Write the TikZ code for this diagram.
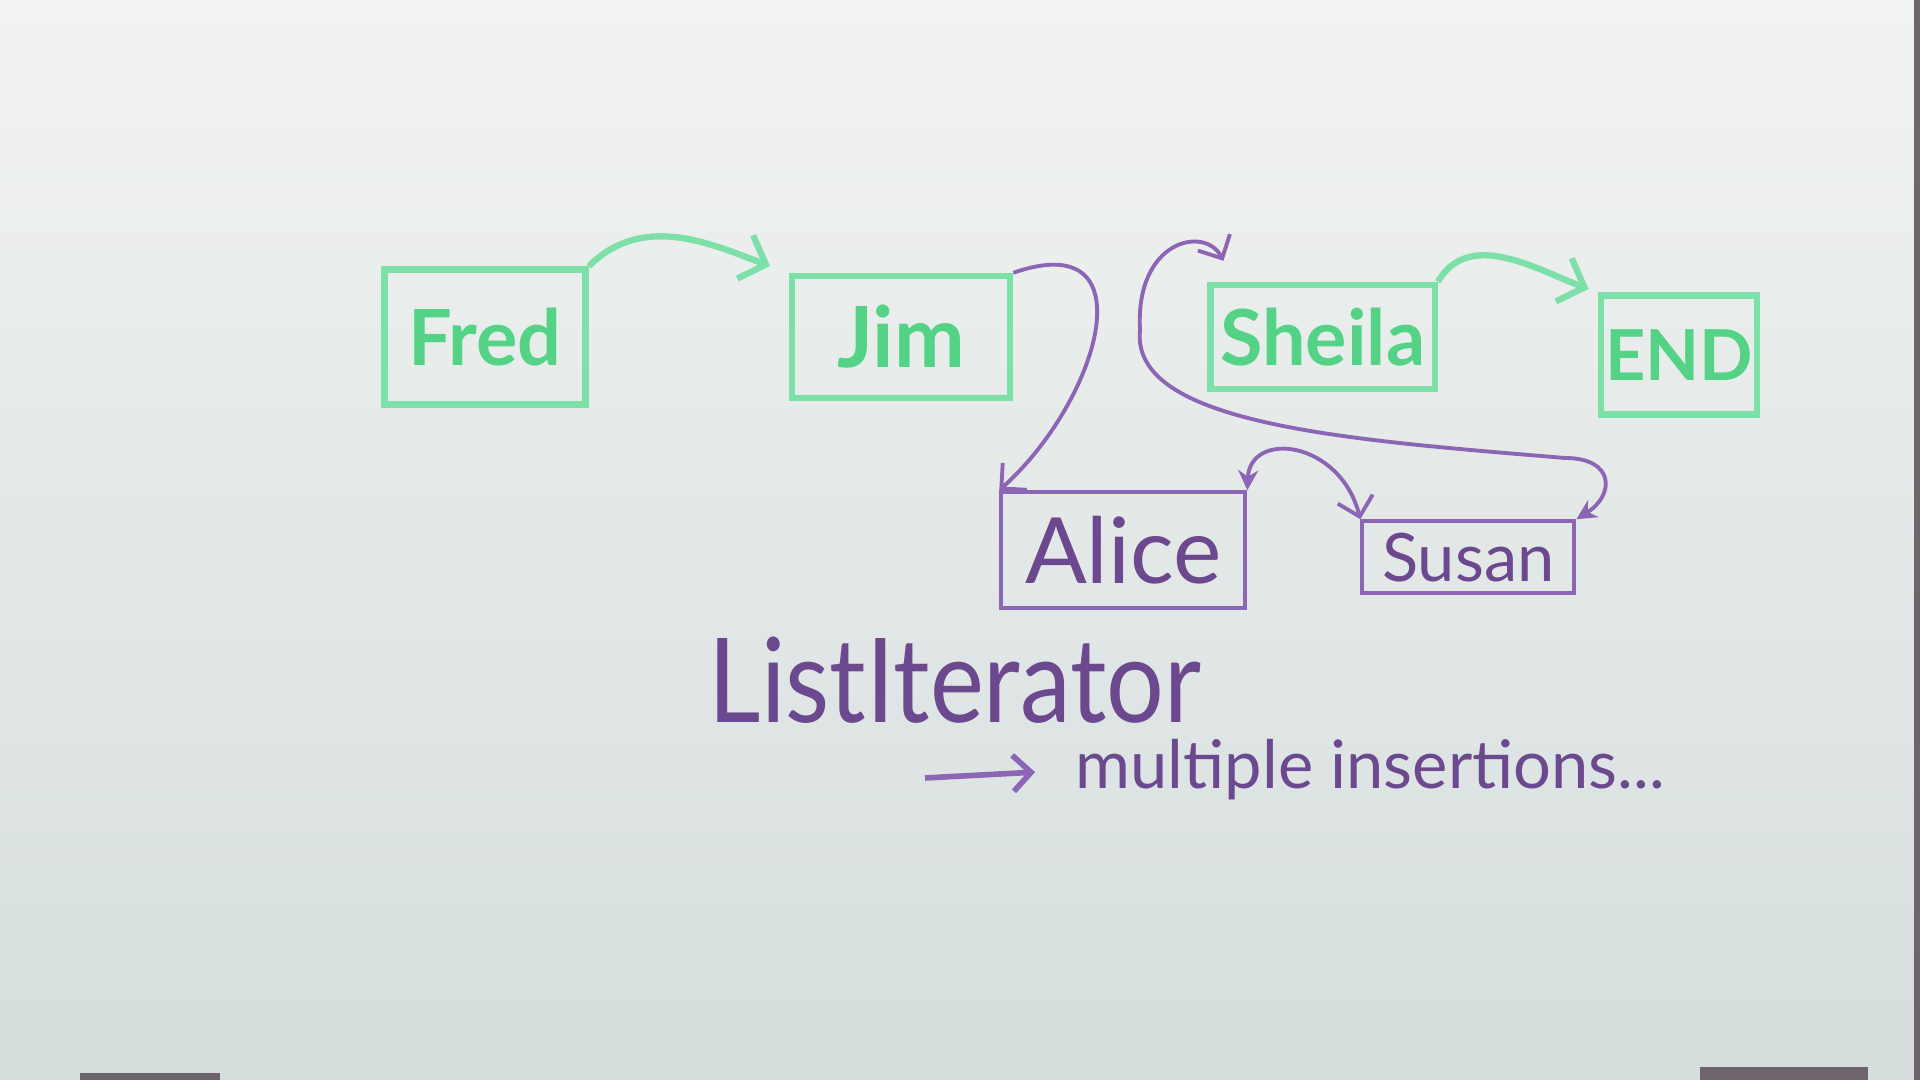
\documentclass[tikz,border=0pt]{standalone}
\usepackage{fontspec}
\setmainfont{Lato}
\usetikzlibrary{arrows.meta,positioning}
\definecolor{boardtop}{RGB}{241,243,242}
\definecolor{boardbottom}{RGB}{213,222,221}
\definecolor{frame}{RGB}{110,100,108}
\definecolor{markgreen}{RGB}{124,224,168}
\definecolor{inkgreen}{RGB}{84,210,134}
\definecolor{markpurple}{RGB}{140,102,180}
\definecolor{inkpurple}{RGB}{108,72,142}
\tikzset{
    listbox/.style={
        rectangle,
        draw=markgreen,
        line width=1.8pt,
        text=inkgreen,
        inner sep=0pt,
    },
    newbox/.style={
        rectangle,
        draw=markpurple,
        line width=1.1pt,
        text=inkpurple,
        inner sep=0pt,
    },
    link/.style={
        draw=markgreen,
        line width=1.8pt,
        -{Straight Barb[length=2.2mm,width=4.6mm]},
    },
    newlink/.style={
        draw=markpurple,
        line width=1.1pt,
        -{Straight Barb[length=1.8mm,width=3.6mm]},
    },
    note/.style={
        text=inkpurple,
        inner sep=0pt,
    },
    node distance=2cm,
}
\begin{document}
\begin{tikzpicture}[x=0.01cm,y=-0.01cm]

                    % Whiteboard
                    \shade[top color=boardtop, bottom color=boardbottom] (0,0) rectangle (1920,1080);
                    \fill[frame] (1914,0) rectangle (1920,1080);
                    \fill[frame] (80,1073) rectangle (220,1080);
                    \fill[frame] (1700,1067) rectangle (1868,1080);
                    \useasboundingbox (0,0) rectangle (1920,1080);

                    % Nodes and position definitions
                    \node [listbox, minimum width=2.01cm, minimum height=1.35cm,
                           font=\fontsize{22}{24}\bfseries\selectfont] (Fred) at (485,337) {Fred};
                    \node [listbox, minimum width=2.18cm, minimum height=1.22cm,
                           font=\fontsize{24}{26}\bfseries\selectfont] (Jim) [right=2.0cm of Fred] {Jim};
                    \node [listbox, minimum width=2.24cm, minimum height=1.04cm,
                           font=\fontsize{22}{24}\bfseries\selectfont] (Sheila) [right=1.94cm of Jim] {Sheila};
                    \node [listbox, minimum width=1.56cm, minimum height=1.19cm,
                           font=\fontsize{20}{22}\bfseries\selectfont] (End) [right=1.6cm of Sheila, yshift=-1.8mm] {END};

                    \node [newbox, minimum width=2.44cm, minimum height=1.16cm,
                           font=\fontsize{26}{28}\selectfont] (Alice) [below right=8.9mm and -1.4mm of Jim] {Alice};
                    \node [newbox, minimum width=2.12cm, minimum height=0.72cm,
                           font=\fontsize{19}{21}\selectfont] (Susan) [right=1.13cm of Alice, yshift=-0.7mm] {Susan};

                    \node [note, font=\fontsize{29}{31}\selectfont] (iter) at (955,680)
                          {\scalebox{1}[1.15]{ListIterator}};
                    \node [note, anchor=west, font=\fontsize{19}{21}\selectfont] (multi) at (1075,770)
                          {multiple insertions...};
                    \coordinate (arrow-start) at (925,778);

                    % Link definitions
                    \path (Fred.north east) edge[link, out=45, in=160, shorten >=2mm] (Jim.north west);
                    \path (Sheila.north east) edge[link, out=60, in=160, shorten >=1mm] (End.north west);

                    \draw[newlink] (Jim.north east) .. controls (1150,225) and (1100,400) .. (Alice.north west);
                    \draw[newlink, {Stealth[length=2mm,width=2mm]}-{Straight Barb[length=1.8mm,width=3.6mm]}]
                          (Alice.north east) .. controls (1250,430) and (1340,440) .. (Susan.north west);
                    \draw[newlink, {Stealth[length=2mm,width=2mm]}-{Straight Barb[length=1.8mm,width=3.6mm]}]
                          (Susan.north east) .. controls (1615,495) and (1615,458) .. (1565,458)
                          .. controls (1350,440) and (1130,425) .. (1140,330)
                          .. controls (1135,240) and (1205,225) .. ([shift={(16,-21)}]Sheila.north west);
                    \draw[newlink, line width=1.6pt, shorten >=4mm] (arrow-start) -- (multi.west);
                \end{tikzpicture}
\end{document}
